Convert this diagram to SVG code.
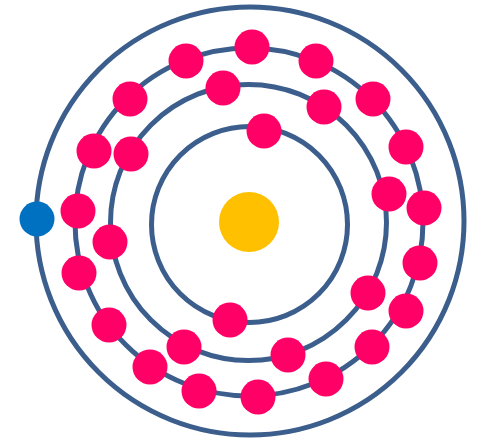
<svg xmlns="http://www.w3.org/2000/svg" width="477" height="439" viewBox="0 0 477 439">
<style>
.orbit{fill:none;stroke:#3B5E8C;stroke-width:5}
.e{fill:#FF0066}
</style>
<rect width="477" height="439" fill="#fff"/>
<g id="orbits">
<circle class="orbit" cx="249.5" cy="224.5" r="98"/>
<circle class="orbit" cx="248.5" cy="222.5" r="138"/>
<circle class="orbit" cx="249" cy="222" r="174"/>
<circle class="orbit" cx="250" cy="221" r="214"/>
</g>
<g id="nucleus"><circle cx="249" cy="222" r="30" fill="#FFC000"/></g>
<g id="shell1">
<circle class="e" cx="264" cy="131" r="17.5"/>
<circle class="e" cx="230" cy="320" r="17.5"/>
</g>
<g id="shell2">
<circle class="e" cx="223" cy="88" r="17.5"/>
<circle class="e" cx="324" cy="107" r="17.5"/>
<circle class="e" cx="131" cy="154" r="17.5"/>
<circle class="e" cx="389" cy="194" r="17.5"/>
<circle class="e" cx="110" cy="242" r="17.5"/>
<circle class="e" cx="368" cy="293" r="17.5"/>
<circle class="e" cx="184" cy="347" r="17.5"/>
<circle class="e" cx="288" cy="355" r="17.5"/>
</g>
<g id="shell3">
<circle class="e" cx="186" cy="61" r="17.5"/>
<circle class="e" cx="252" cy="47" r="17.5"/>
<circle class="e" cx="316" cy="61" r="17.5"/>
<circle class="e" cx="373" cy="99" r="17.5"/>
<circle class="e" cx="406" cy="147" r="17.5"/>
<circle class="e" cx="424" cy="208" r="17.5"/>
<circle class="e" cx="420" cy="263" r="17.5"/>
<circle class="e" cx="406" cy="311" r="17.5"/>
<circle class="e" cx="372" cy="347" r="17.5"/>
<circle class="e" cx="326" cy="379" r="17.5"/>
<circle class="e" cx="258" cy="397" r="17.5"/>
<circle class="e" cx="199" cy="391" r="17.5"/>
<circle class="e" cx="150" cy="367" r="17.5"/>
<circle class="e" cx="109" cy="325" r="17.5"/>
<circle class="e" cx="79" cy="273" r="17.5"/>
<circle class="e" cx="78" cy="211" r="17.5"/>
<circle class="e" cx="94" cy="151" r="17.5"/>
<circle class="e" cx="130" cy="99" r="17.5"/>
</g>
<g id="shell4">
<circle cx="37" cy="219" r="17.5" fill="#0070C0"/>
</g>
</svg>
